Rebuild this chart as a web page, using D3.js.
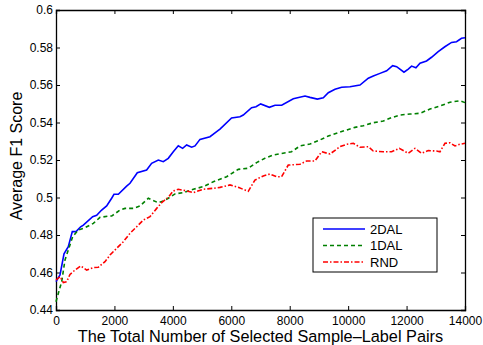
<!DOCTYPE html>
<html>
<head>
<meta charset="utf-8">
<script src="https://cdn.jsdelivr.net/npm/d3@7"></script>
<style>
  body { margin: 0; background: #fff; }
  text { font-family: "Liberation Sans", Arial, sans-serif; }
</style>
</head>
<body>
<div id="app"></div>
<script>
const WIDTH = 483, HEIGHT = 345;

// values
const xTicks = [0, 2000, 4000, 6000, 8000, 10000, 12000, 14000];
const yTicks = [0.44, 0.46, 0.48, 0.5, 0.52, 0.54, 0.56, 0.58, 0.6];

const dal2X = [0, 137, 274, 421, 558, 685, 844, 936, 1255, 1392, 1563, 1734, 1905, 1985, 2134, 2418, 2533, 2783, 3102, 3273, 3502, 3673, 3843, 4015, 4186, 4335, 4472, 4643, 4758, 4929, 5271, 5499, 5613, 6010, 6297, 6410, 6695, 6846, 7006, 7302, 7497, 7725, 8123, 8523, 8694, 8945, 9150, 9321, 9550, 9778, 10063, 10405, 10690, 10861, 11090, 11318, 11523, 11660, 11911, 12058, 12172, 12320, 12460, 12684, 12855, 13083, 13310, 13540, 13710, 13880, 14000];
const dal2Y = [0.4551, 0.4587, 0.470, 0.4738, 0.4818, 0.4818, 0.4844, 0.4853, 0.4898, 0.4905, 0.4933, 0.4955, 0.4996, 0.5017, 0.5017, 0.5061, 0.5076, 0.5132, 0.5147, 0.5182, 0.520, 0.5191, 0.5209, 0.5244, 0.5276, 0.5262, 0.528, 0.5268, 0.5275, 0.531, 0.5324, 0.5351, 0.5365, 0.5424, 0.5431, 0.544, 0.5479, 0.5484, 0.5499, 0.5481, 0.5492, 0.5492, 0.5527, 0.5541, 0.5534, 0.5525, 0.5532, 0.5559, 0.5577, 0.5588, 0.5591, 0.560, 0.5636, 0.5648, 0.5662, 0.5676, 0.5703, 0.5698, 0.5668, 0.5685, 0.5701, 0.5692, 0.5716, 0.5728, 0.5748, 0.5778, 0.5804, 0.5827, 0.5831, 0.5849, 0.5852];

const dal1X = [0, 113, 195, 308, 421, 570, 764, 993, 1278, 1506, 1791, 1905, 2191, 2362, 2647, 2875, 3160, 3273, 3502, 3673, 3843, 4073, 4357, 4700, 5042, 5385, 5841, 6239, 6581, 6866, 7152, 7437, 8064, 8351, 8694, 9036, 9321, 9664, 9950, 10235, 10520, 10861, 11204, 11489, 11774, 12117, 12459, 12801, 13144, 13486, 13828, 14000];
const dal1Y = [0.4444, 0.4507, 0.4551, 0.4667, 0.472, 0.4791, 0.4827, 0.4839, 0.4862, 0.4894, 0.4901, 0.4901, 0.4933, 0.4942, 0.4942, 0.4955, 0.4996, 0.4987, 0.4972, 0.4981, 0.4996, 0.5019, 0.5026, 0.5044, 0.5058, 0.5084, 0.5111, 0.515, 0.5156, 0.5186, 0.5209, 0.5227, 0.5244, 0.5275, 0.5285, 0.5307, 0.5328, 0.5346, 0.536, 0.5374, 0.5383, 0.5399, 0.5408, 0.5426, 0.544, 0.5445, 0.5449, 0.5472, 0.5488, 0.5508, 0.5516, 0.5506];

const rndX = [0, 137, 251, 365, 479, 650, 844, 1050, 1278, 1449, 1677, 1848, 2076, 2305, 2533, 2761, 2989, 3218, 3446, 3616, 3843, 4015, 4186, 4472, 4700, 5042, 5385, 5613, 5955, 6239, 6581, 6810, 7095, 7323, 7551, 7722, 7950, 8351, 8579, 8865, 9093, 9378, 9720, 9950, 10177, 10405, 10690, 10861, 11204, 11489, 11752, 12058, 12287, 12514, 12742, 13027, 13144, 13315, 13486, 13657, 13828, 14000];
const rndY = [0.456, 0.4578, 0.4546, 0.4551, 0.459, 0.4613, 0.4635, 0.4613, 0.4626, 0.4628, 0.4658, 0.4693, 0.4729, 0.4764, 0.4809, 0.4844, 0.488, 0.4898, 0.4942, 0.4972, 0.5001, 0.5035, 0.5044, 0.5035, 0.5026, 0.5044, 0.5049, 0.5054, 0.5067, 0.5054, 0.5033, 0.5093, 0.5115, 0.5125, 0.5111, 0.5111, 0.5173, 0.5177, 0.5195, 0.5195, 0.5244, 0.5232, 0.5271, 0.5284, 0.5289, 0.5268, 0.5271, 0.5248, 0.5244, 0.5244, 0.5262, 0.5236, 0.5262, 0.5236, 0.525, 0.5248, 0.5244, 0.5289, 0.5292, 0.5275, 0.5284, 0.5289];

const seriesNames = ['2DAL', '1DAL', 'RND'];
const seriesColors = ['#0000ff', '#008000', '#ff0000'];
const seriesDash = [null, '4,3', '5,2,1.5,2'];

const series = [
  { name: seriesNames[0], xs: dal2X, ys: dal2Y },
  { name: seriesNames[1], xs: dal1X, ys: dal1Y },
  { name: seriesNames[2], xs: rndX, ys: rndY }
];

const margin = { left: 56, right: 18, top: 10, bottom: 35 };
const w = WIDTH - margin.left - margin.right;
const h = HEIGHT - margin.top - margin.bottom;

const svg = d3.select('#app')
  .append('svg')
    .attr('width', WIDTH)
    .attr('height', HEIGHT);

const g = svg.append('g')
  .attr('transform', `translate(${margin.left},${margin.top})`);

const x = d3.scaleLinear().domain([0, 14000]).range([0, w]);
const y = d3.scaleLinear().domain([0.44, 0.6]).range([h, 0]);

const fmtY = d => d3.format('.2~f')(d);

// axes, ticks pointing inward like matlab
g.append('g')
  .attr('transform', `translate(0,${h})`)
  .call(d3.axisBottom(x).tickValues(xTicks).tickSize(-4).tickPadding(6).tickFormat(d3.format('d')));
g.append('g')
  .call(d3.axisLeft(y).tickValues(yTicks).tickSize(-4).tickPadding(3).tickFormat(fmtY));
g.append('g')
  .call(d3.axisTop(x).tickValues(xTicks).tickSize(-4).tickFormat(''));
g.append('g')
  .attr('transform', `translate(${w},0)`)
  .call(d3.axisRight(y).tickValues(yTicks).tickSize(-4).tickFormat(''));

g.selectAll('.domain').attr('stroke', '#000').attr('stroke-width', 1.3);
g.selectAll('.tick line').attr('stroke', '#000');
g.selectAll('.tick text').attr('font-size', 12).attr('fill', '#000')
  .attr('font-family', '"Liberation Sans", Arial, sans-serif');

const line = d3.line()
  .x(d => x(d[0]))
  .y(d => y(d[1]));

series.forEach((s, i) => {
  const pts = s.xs.map((v, j) => [v, s.ys[j]]);
  g.append('path')
    .datum(pts)
    .attr('d', line)
    .attr('fill', 'none')
    .attr('stroke', seriesColors[i])
    .attr('stroke-width', 1.6)
    .attr('stroke-dasharray', seriesDash[i]);
});

// axis labels
svg.append('text')
  .attr('x', margin.left + w / 2)
  .attr('y', 342)
  .attr('text-anchor', 'middle')
  .attr('font-size', 16.3)
  .text('The Total Number of Selected Sample\u2013Label Pairs');

svg.append('text')
  .attr('transform', `translate(22,156) rotate(-90)`)
  .attr('text-anchor', 'middle')
  .attr('font-size', 16)
  .text('Average F1 Score');

// legend
const lg = svg.append('g').attr('transform', 'translate(313,218)');
lg.append('rect')
  .attr('width', 124).attr('height', 54)
  .attr('fill', '#fff').attr('stroke', '#000').attr('stroke-width', 1);

seriesNames.forEach((name, i) => {
  const yy = 11 + i * 16.5;
  lg.append('line')
    .attr('x1', 10).attr('x2', 52)
    .attr('y1', yy).attr('y2', yy)
    .attr('stroke', seriesColors[i])
    .attr('stroke-width', 1.6)
    .attr('stroke-dasharray', seriesDash[i]);
  lg.append('text')
    .attr('x', 57).attr('y', yy + 4.5)
    .attr('font-size', 13)
    .text(name);
});
</script>
</body>
</html>
